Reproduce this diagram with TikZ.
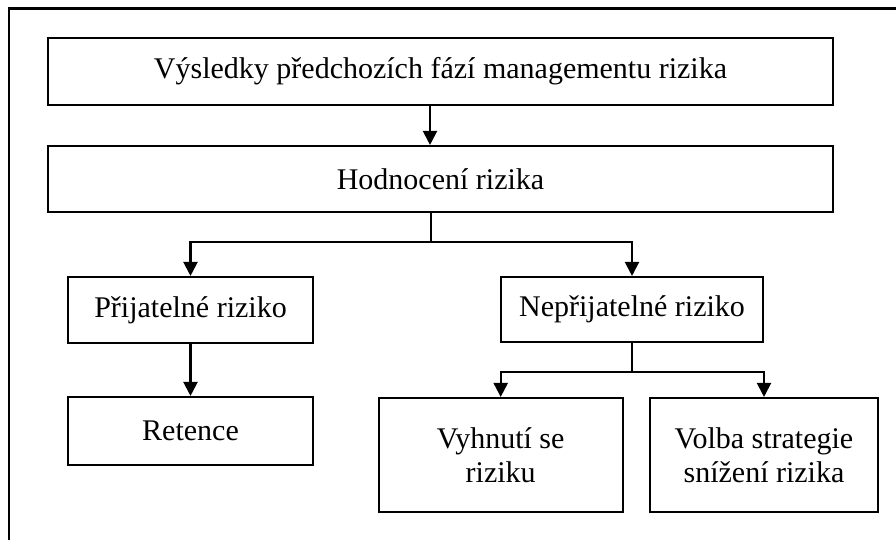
\documentclass[tikz,border=0pt]{standalone}
\usepackage{fontspec}
\setmainfont{Liberation Serif}
\usetikzlibrary{arrows.meta}
\begin{document}
\begin{tikzpicture}[x=1pt,y=-1pt,
  line width=2.1pt,
  box/.style={draw, rectangle, inner sep=0pt, align=center,
    font=\fontsize{30}{34}\selectfont},
  arr/.style={-{Triangle[length=14pt,width=14pt]}}]
\useasboundingbox (0,0) rectangle (896,539);
% frame (only left and top edges fall on the page)
\draw (9,560) -- (9,8.5) -- (910,8.5);
% boxes
\node[box, minimum width=785pt, minimum height=67pt] (b1) at (440.5,71.5) {Výsledky předchozích fází managementu rizika};
\node[box, minimum width=785pt, minimum height=66pt] (b2) at (440.5,179) {Hodnocení rizika};
\node[box, minimum width=245pt, minimum height=66pt] (b3) at (190.5,310) {Přijatelné riziko};
\node[box, minimum width=262pt, minimum height=65pt] (b4) at (632,309.5) {Nepřijatelné riziko};
\node[box, minimum width=245pt, minimum height=68pt] (b5) at (190.5,431) {Retence};
\node[box, minimum width=244pt, minimum height=114pt] (b6) at (500.7,455) {Vyhnutí se\\riziku};
\node[box, minimum width=228pt, minimum height=114pt] (b7) at (764,455) {Volba strategie\\snížení rizika};
% connectors
\coordinate (a1) at (430,0);
\draw[arr] (b1.south -| a1) -- (b2.north -| a1);
\coordinate (j1) at (431,242);
\draw (b2.south -| j1) -- (j1);
\draw[arr] (j1) -| (b3.north);
\draw[arr] (j1) -| (b4.north);
\draw[arr] (b3.south) -- (b5.north);
\coordinate (j2) at (632,372);
\draw (b4.south) -- (j2);
\draw[arr] (j2) -| (b6.north);
\draw[arr] (j2) -| (b7.north);
\end{tikzpicture}
\end{document}
